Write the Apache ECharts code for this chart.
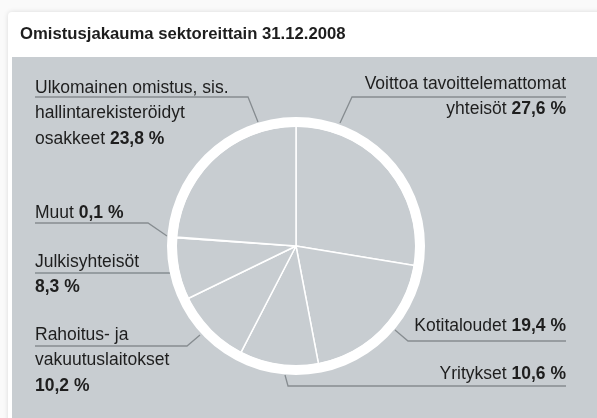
<!DOCTYPE html>
<html>
<head>
<meta charset="utf-8">
<script src="https://cdn.jsdelivr.net/npm/echarts@6/dist/echarts.min.js"></script>
<style>
  html, body { margin: 0; padding: 0; background: #fafafa; }
  .card {
    position: absolute; left: 8px; top: 12px; width: 600px; height: 420px;
    background: #fff; border-radius: 4px;
    box-shadow: 0 0 5px rgba(0, 0, 0, 0.13);
  }
  .panel {
    position: absolute; left: 12px; top: 57px; width: 590px; height: 370px;
    background: #c8cdd1;
  }
  #chart { position: absolute; left: 0; top: 0; width: 597px; height: 418px; }
</style>
</head>
<body>
<div class="card"></div>
<div class="panel"></div>
<div id="chart"></div>
<script>
// sektorit myötäpäivään klo 12:sta alkaen
const sectors = [
  'Voittoa tavoittelemattomat\nyhteisöt',
  'Kotitaloudet',
  'Yritykset',
  'Rahoitus- ja\nvakuutuslaitokset',
  'Julkisyhteisöt',
  'Muut',
  'Ulkomainen omistus, sis.\nhallintarekisteröidyt\nosakkeet'
]
const shares = [27.6, 19.4, 10.6, 10.2, 8.3, 0.1, 23.8]

// tekstien ja viivojen sijoittelu (ei dataa)
const labelPlaces = [
  { x: 566, y: 71, align: 'right', newLine: false, line: [[340, 123], [352, 97], [566, 97]] },
  { x: 566, y: 313, align: 'right', newLine: false, line: [[395, 330], [408, 341], [566, 341]] },
  { x: 566, y: 361, align: 'right', newLine: false, line: [[285, 375], [288, 386], [566, 386]] },
  { x: 35, y: 322, align: 'left', newLine: true, line: [[200, 335], [187, 346], [35, 346]] },
  { x: 35, y: 249, align: 'left', newLine: true, line: [[170, 273], [169, 273], [35, 273]] },
  { x: 35, y: 200, align: 'left', newLine: false, line: [[167, 236], [148, 223], [35, 223]] },
  { x: 35, y: 75, align: 'left', newLine: false, line: [[258, 122], [248, 97], [35, 97]] }
]

const fmt = v => v.toFixed(1).replace('.', ',') + ' %'

const chart = echarts.init(document.getElementById('chart'))

chart.setOption({
  textStyle: { fontFamily: 'Liberation Sans, Arial, sans-serif' },
  title: {
    text: 'Omistusjakauma sektoreittain 31.12.2008',
    left: 20,
    top: 26,
    padding: 0,
    textStyle: { fontSize: 16.7, fontWeight: 'bold', color: '#1e1e1e' }
  },
  series: [
    {
      type: 'pie',
      center: [296, 246],
      radius: [0, 120],
      startAngle: 90,
      clockwise: true,
      silent: true,
      avoidLabelOverlap: false,
      itemStyle: { color: '#c8cdd1', borderColor: '#fff', borderWidth: 1.5 },
      label: {
        show: true,
        position: 'outside',
        color: '#1e1e1e',
        fontSize: 17.5,
        lineHeight: 25.5,
        formatter: p => {
          const sep = labelPlaces[p.dataIndex].newLine ? '\n' : ' '
          return p.name + sep + '{b|' + fmt(p.value) + '}'
        },
        rich: {
          b: { fontWeight: 'bold', fontSize: 17.5, color: '#1e1e1e', lineHeight: 25.5 }
        }
      },
      labelLine: {
        show: true,
        smooth: false,
        lineStyle: { color: '#868c90', width: 1.3 }
      },
      labelLayout: params => {
        const l = labelPlaces[params.dataIndex]
        return {
          x: l.x,
          y: l.y,
          align: l.align,
          verticalAlign: 'top',
          labelLinePoints: l.line
        }
      },
      data: sectors.map((name, i) => ({ name, value: shares[i] }))
    },
    {
      // valkoinen reunarengas
      type: 'pie',
      center: [296, 246],
      radius: [119, 129],
      silent: true,
      label: { show: false },
      labelLine: { show: false },
      itemStyle: { color: '#fff' },
      data: [{ value: 1, name: 'rengas' }]
    }
  ]
})
</script>
</body>
</html>
